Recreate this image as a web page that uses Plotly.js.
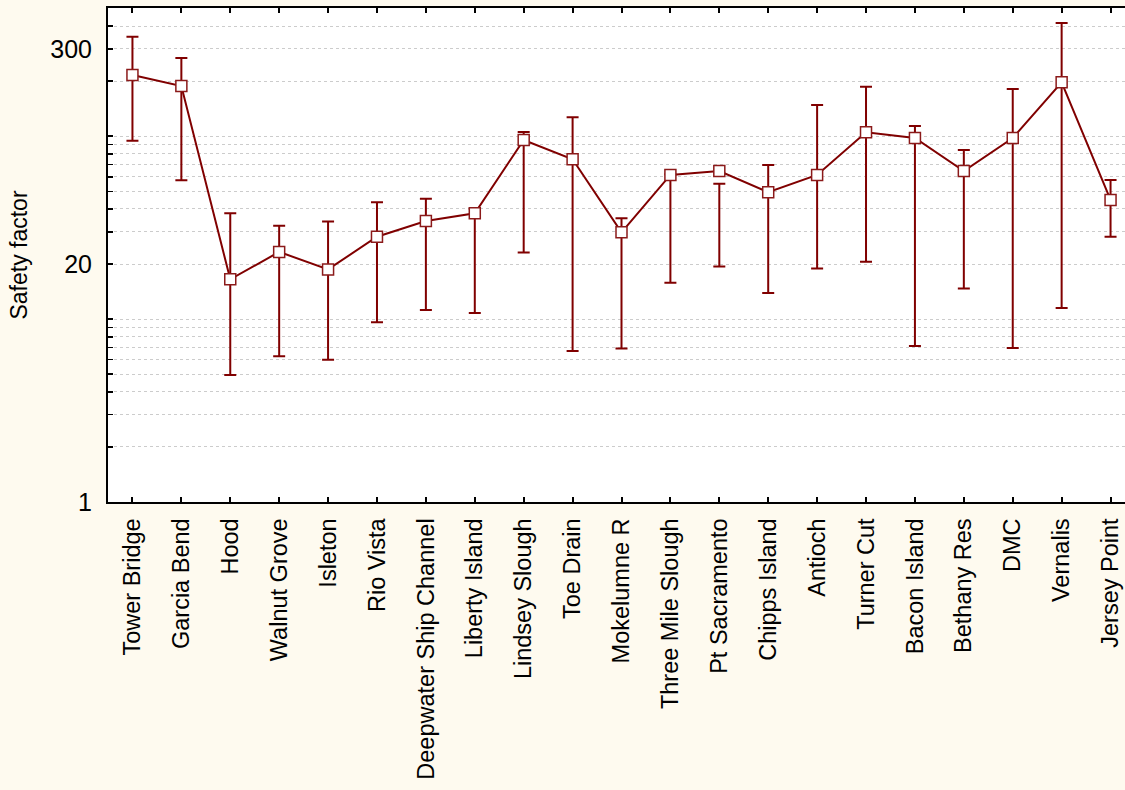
<!DOCTYPE html>
<html>
<head>
<meta charset="utf-8">
<script src="https://cdn.plot.ly/plotly-3.0.1.min.js"></script>
<style>
html, body { margin: 0; padding: 0; overflow: hidden; background: #FEFAEF; }
#chart { width: 1140px; height: 790px; }
</style>
</head>
<body>
<div id="chart"></div>
<script>
const categories = ["Tower Bridge", "Garcia Bend", "Hood", "Walnut Grove", "Isleton", "Rio Vista",
  "Deepwater Ship Channel", "Liberty Island", "Lindsey Slough", "Toe Drain", "Mokelumne R",
  "Three Mile Slough", "Pt Sacramento", "Chipps Island", "Antioch", "Turner Cut", "Bacon Island",
  "Bethany Res", "DMC", "Vernalis", "Jersey Point"];
const meanValues = [216, 188, 16.5, 23.3, 18.7, 28.2, 34.4, 37.9, 95.3, 74.8, 29.8,
  61.4, 64.5, 49.4, 61.4, 105, 97.8, 64.5, 97.8, 197, 44.8];
const upperValues = [350, 268, 37.9, 32.4, 34.2, 43.5, 45.5, 40, 105.5, 126.9, 35.6,
  62, 55, 69.6, 148, 186.5, 113.7, 84.1, 181, 416, 57.6];
const lowerValues = [94.5, 57.4, 4.95, 6.26, 6.0, 9.6, 11.2, 10.8, 23.1, 6.7, 6.9,
  15.8, 19.4, 13.9, 18.9, 20.6, 7.13, 14.7, 6.95, 11.5, 28.2];
const yTickValues = [1, 2, 3, 4, 5, 6, 7, 8, 9, 10, 20, 30, 40, 50, 60, 70, 80, 90, 100, 200, 300, 400];
const yTickLabels = ["1", "", "", "", "", "", "", "", "", "", "20", "", "", "", "", "", "", "", "", "", "300", ""];

const red = "#800000";

const errTrace = {
  type: "scatter",
  mode: "markers",
  x: categories,
  y: lowerValues,
  marker: { opacity: 0, size: 1 },
  error_y: {
    type: "data",
    symmetric: false,
    array: upperValues.map((u, i) => u - lowerValues[i]),
    arrayminus: lowerValues.map(() => 0),
    color: red,
    thickness: 2,
    width: 6
  },
  hoverinfo: "skip",
  showlegend: false
};

const meanTrace = {
  type: "scatter",
  mode: "lines+markers",
  x: categories,
  y: meanValues,
  line: { color: red, width: 2 },
  marker: { symbol: "square", size: 11, color: "#ffffff", line: { color: "#8B1a1a", width: 1.5 } },
  showlegend: false
};

const font = "Liberation Sans, Arial, sans-serif";

const layout = {
  width: 1140,
  height: 790,
  margin: { l: 108, r: 5, t: 8, b: 288 },
  paper_bgcolor: "#FEFAEF",
  plot_bgcolor: "#ffffff",
  showlegend: false,
  font: { family: font, color: "#000000" },
  xaxis: {
    type: "category",
    range: [-0.5, 20.5],
    showline: true,
    linecolor: "#000000",
    linewidth: 2,
    mirror: "ticks",
    ticks: "inside",
    ticklen: 5,
    tickwidth: 2,
    tickcolor: "#000000",
    tickangle: -90,
    tickfont: { family: font, size: 23.5, color: "#000000" },
    ticklabelstandoff: 5,
    showgrid: false,
    zeroline: false
  },
  yaxis: {
    type: "log",
    range: [0, 2.701],
    tickmode: "array",
    tickvals: yTickValues,
    ticktext: yTickLabels,
    showline: true,
    linecolor: "#000000",
    linewidth: 2,
    mirror: "ticks",
    ticks: "inside",
    ticklen: 5,
    tickwidth: 1.5,
    tickcolor: "#000000",
    tickfont: { family: font, size: 25, color: "#000000" },
    ticklabelstandoff: 9,
    showgrid: true,
    gridcolor: "#cccccc",
    griddash: "dot",
    gridwidth: 1,
    zeroline: false,
    title: { text: "Safety factor", font: { family: font, size: 23, color: "#000000" }, standoff: 16 }
  }
};

Plotly.newPlot("chart", [errTrace, meanTrace], layout, { displayModeBar: false, staticPlot: true });
</script>
</body>
</html>
